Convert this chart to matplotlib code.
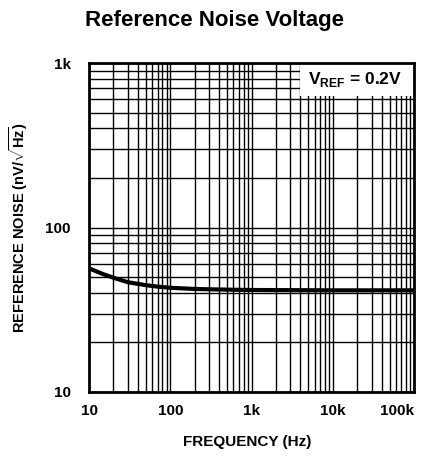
import numpy as np
import matplotlib
matplotlib.use("Agg")
import matplotlib.pyplot as plt
from matplotlib.patches import Rectangle
from matplotlib.ticker import FixedLocator, FixedFormatter, LogLocator, NullFormatter

# Daten
freq_hz = [10, 15, 20, 30, 50, 70, 100, 200, 500, 1000, 3000, 10000, 30000, 100000]
noise_nv = [56.5, 52.0, 49.5, 46.5, 44.6, 43.7, 43.0, 42.3, 41.9, 41.7, 41.6, 41.5, 41.5, 41.5]

x_ticks = [10, 100, 1000, 10000, 100000]
x_labels = ["10", "100", "1k", "10k", "100k"]
y_ticks = [10, 100, 1000]
y_labels = ["10", "100", "1k"]

plt.rcParams["font.family"] = ["Liberation Sans", "DejaVu Sans"]
plt.rcParams["mathtext.fontset"] = "custom"
plt.rcParams["mathtext.rm"] = "Liberation Sans:bold"
plt.rcParams["mathtext.bf"] = "Liberation Sans:bold"

fig = plt.figure(figsize=(4.29, 4.66), dpi=100)
ax = fig.add_axes([0.2075, 0.1588, 0.7575, 0.706])

ax.set_xscale("log")
ax.set_yscale("log")
ax.set_xlim(10, 100000)
ax.set_ylim(10, 1000)

ax.xaxis.set_major_locator(FixedLocator(x_ticks))
ax.xaxis.set_major_formatter(FixedFormatter(x_labels))
ax.yaxis.set_major_locator(FixedLocator(y_ticks))
ax.yaxis.set_major_formatter(FixedFormatter(y_labels))
ax.xaxis.set_minor_locator(LogLocator(base=10, subs=np.arange(2, 10)))
ax.yaxis.set_minor_locator(LogLocator(base=10, subs=np.arange(2, 10)))
ax.xaxis.set_minor_formatter(NullFormatter())
ax.yaxis.set_minor_formatter(NullFormatter())

ax.grid(True, which="both", color="black", linewidth=1.0)
ax.tick_params(which="both", length=0)
ax.tick_params(axis="x", pad=9)
ax.tick_params(axis="y", pad=13)
for lbl in ax.get_xticklabels() + ax.get_yticklabels():
    lbl.set_fontweight("bold")
    lbl.set_fontsize(11)
ax.get_xticklabels()[-1].set_horizontalalignment("right")

for s in ax.spines.values():
    s.set_linewidth(2.0)
    s.set_zorder(5)

ax.plot(freq_hz, noise_nv, color="black", linewidth=3.0, zorder=3)

# weisses Feld fuer die Beschriftung oben rechts
ax.add_patch(Rectangle((0.65, 0.9), 0.35, 0.1, transform=ax.transAxes,
                       facecolor="white", edgecolor="none", zorder=4))
ax.text(0.82, 0.95, r"V$_{\mathbf{REF}}$ = 0.2V", transform=ax.transAxes,
        ha="center", va="center", fontweight="bold",
        fontsize=12.5, zorder=6)

ax.set_xlabel("FREQUENCY (Hz)", fontweight="bold", fontsize=11)
ax.xaxis.set_label_coords(0.486, -0.152)
ax.set_ylabel(r"REFERENCE NOISE (nV/$\mathbf{\sqrt{Hz}}$)",
              fontweight="bold", fontsize=10.5)
ax.yaxis.set_label_coords(-0.218, 0.5)
ax.yaxis.label.set_va("center")
ax.xaxis.label.set_va("center")

fig.text(0.5, 0.957, "Reference Noise Voltage", ha="center", va="center",
         fontsize=16, fontweight="bold")

fig.savefig("out.png", dpi=100, facecolor="white")
